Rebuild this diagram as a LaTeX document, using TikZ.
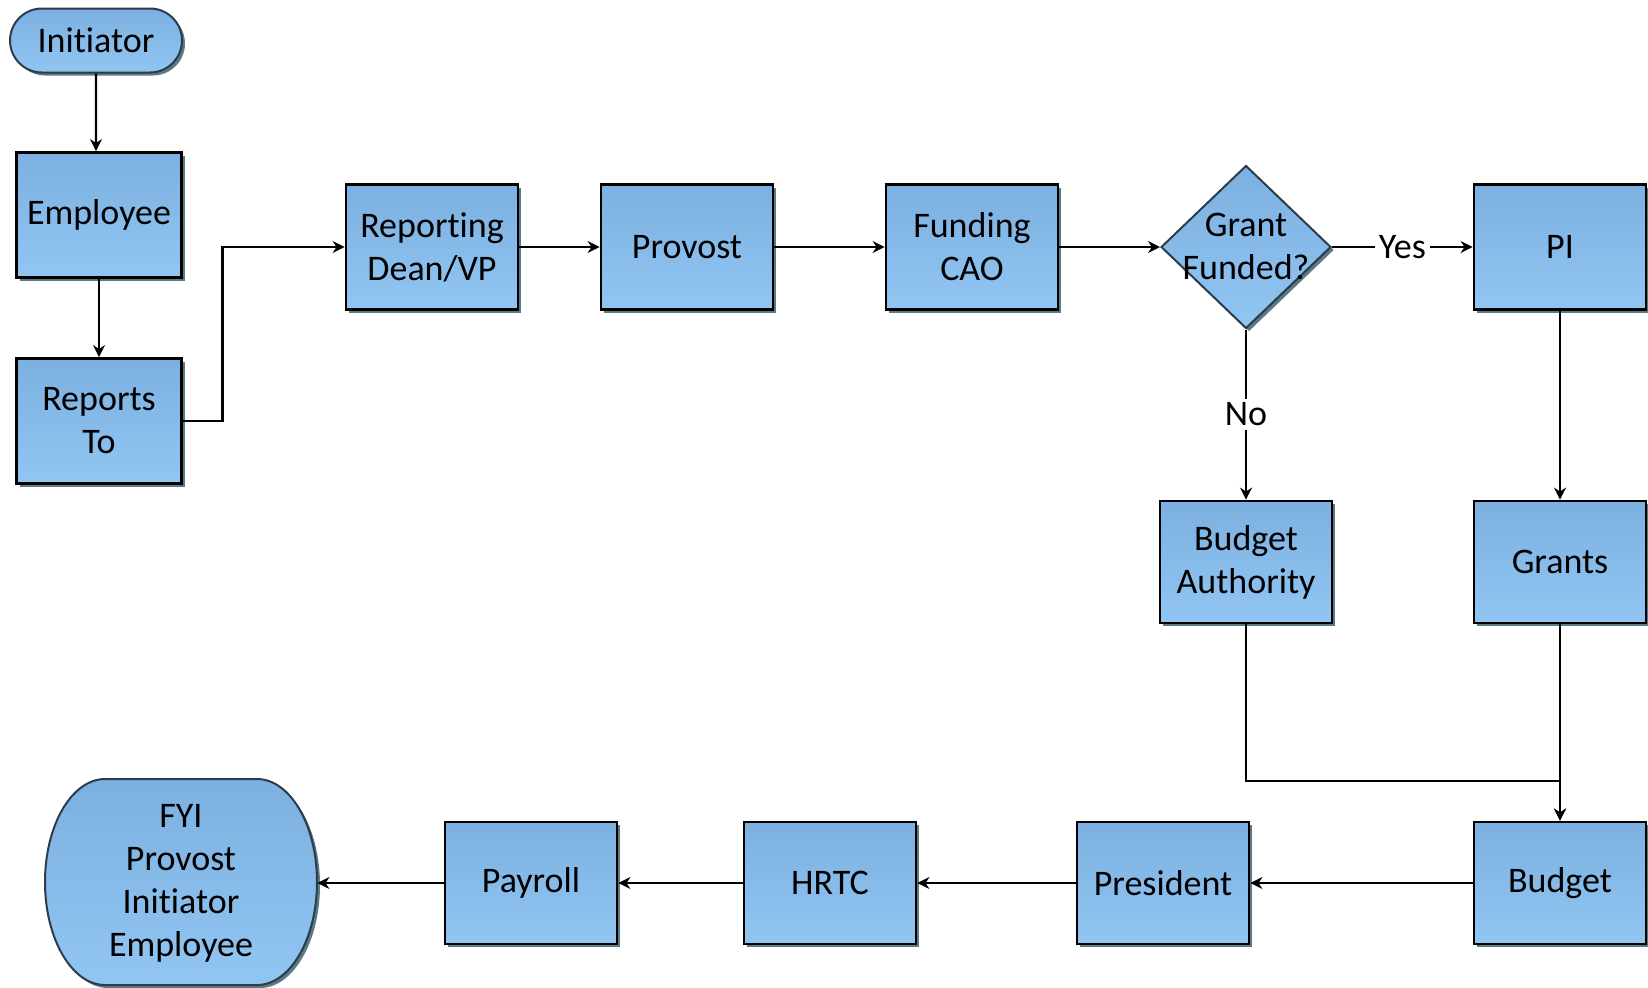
\documentclass[tikz,border=0pt]{standalone}
\usepackage{fontspec}
\setmainfont{Carlito}[Ligatures={NoCommon,NoContextual},Contextuals={NoAlternate}]
\usetikzlibrary{arrows.meta,shapes.geometric,shapes.misc,shadows,calc}
\definecolor{boxtop}{RGB}{124,176,224}
\definecolor{boxbot}{RGB}{145,197,242}
\definecolor{shadowc}{RGB}{90,122,132}
\definecolor{slateb}{RGB}{45,60,75}
\tikzset{
  shade/.style={drop shadow={shadow xshift=1.5pt,shadow yshift=-1.5pt,fill=shadowc,opacity=1}},
  box/.style={draw=black,line width=1.4pt,top color=boxtop,bottom color=boxbot,
    align=center,minimum width=86pt,minimum height=62.5pt,inner sep=0pt,shade},
  narrowbox/.style={box,minimum width=82.5pt},
  term/.style={rounded rectangle,draw=slateb,line width=1pt,top color=boxtop,bottom color=boxbot,
    minimum width=86pt,minimum height=32pt,inner sep=0pt,shade},
  dec/.style={diamond,draw=slateb,line width=1pt,top color=boxtop,bottom color=boxbot,
    minimum width=85pt,minimum height=81.5pt,inner sep=0pt,shade},
  fyishape/.style={draw=slateb,line width=1pt,top color=boxtop,bottom color=boxbot,shade},
  txt/.style={align=center,inner sep=0pt},
  conn/.style={line width=1.2pt,-{Stealth[length=6pt,width=6pt]}},
  lbl/.style={fill=white,inner sep=2pt}
}
\begin{document}
\begin{tikzpicture}[x=0.5pt,y=-0.5pt,font=\fontsize{18}{21.5}\selectfont]
\useasboundingbox (0,0) rectangle (1648,987);
% nodes
\node[term] (init) at (96,40.5) {Initiator};
\node[narrowbox] (emp) at (99,215) {Employee};
\node[narrowbox] (rep) at (99,421) {Reports\\To};
\node[box] (dean) at (432,247) {Reporting\\Dean/VP};
\node[box] (prov) at (687,247) {Provost};
\node[box] (cao) at (972,247) {Funding\\CAO};
\node[dec] (grant) at (1246,247) {};
\node[txt] (grantlbl) at (1246,246) {Grant\\Funded?};
\node[box] (pi) at (1560,247) {PI};
\node[box,minimum height=61pt] (ba) at (1246,562) {Budget\\Authority};
\node[box,minimum height=61pt] (grants) at (1560,562) {Grants};
\node[box,minimum height=61pt] (budget) at (1560,883) {Budget};
\node[box,minimum height=61pt] (pres) at (1163,883) {President};
\node[box,minimum height=61pt] (hrtc) at (830,883) {HRTC};
\node[box,minimum height=61pt] (pay) at (531,883) {Payroll};
% FYI terminal shape
\path[fyishape] (105,779) -- (257,779)
  .. controls (290,779) and (317,825) .. (317,882)
  .. controls (317,939) and (290,985) .. (257,985)
  -- (105,985)
  .. controls (72,985) and (45,939) .. (45,882)
  .. controls (45,825) and (72,779) .. (105,779) -- cycle;
\node[txt,minimum width=136pt,minimum height=103pt] (fyi) at (181,883) {FYI\\Provost\\Initiator\\Employee};
% connectors
\coordinate (jy) at (0,781);
\draw[conn] (init) -- (init |- emp.north);
\draw[conn] (emp) -- (rep);
\draw[conn] (rep.east) -- ++(39.5,0) |- (dean.west);
\draw[conn] (dean) -- (prov);
\draw[conn] (prov) -- (cao);
\draw[conn] (cao) -- (grant);
\draw[conn] (grant) -- node[lbl] {Yes} (pi);
\draw[conn] (grant) -- node[lbl] {No} (ba);
\draw[conn] (pi) -- (grants);
\draw[conn] (grants) -- (budget);
\draw[conn] (ba.south) -- (ba.south |- jy) -| (budget.north);
\draw[conn] (budget) -- (pres);
\draw[conn] (pres) -- (hrtc);
\draw[conn] (hrtc) -- (pay);
\draw[conn] (pay) -- (fyi);
\end{tikzpicture}
\end{document}
